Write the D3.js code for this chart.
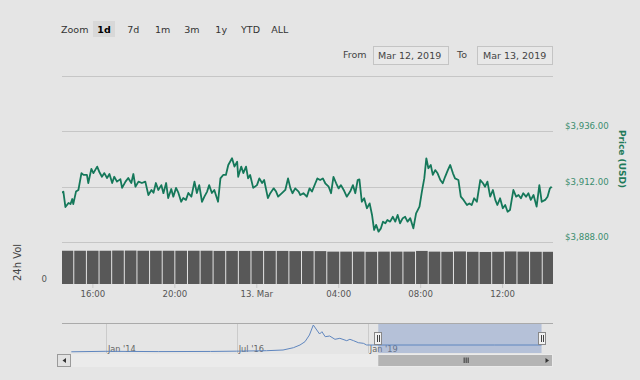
<!DOCTYPE html>
<html><head><meta charset="utf-8">
<script src="https://cdn.jsdelivr.net/npm/d3@7"></script>
<style>
body{margin:0;background:#e5e5e5;}
svg{display:block;font-family:"DejaVu Sans",sans-serif;}
</style>
</head><body>
<svg id="chart" width="640" height="380"></svg>
<script>
// ---------- DATA ----------
// price series: minutes after 2019-03-12 00:00 UTC, price in USD
const priceMinutes = [871,875,881,890,896,901,904,912,919,928,934,944,948,957,963,974,980,988,995,1003,1010,1018,1024,1032,1042,1047,1057,1065,1074,1080,1086,1095,1105,1115,1124,1133,1139,1146,1153,1162,1168,1176,1182,1191,1197,1205,1212,1220,1226,1234,1241,1250,1259,1266,1273,1281,1288,1296,1302,1310,1317,1328,1335,1343,1351,1358,1369,1376,1384,1387,1396,1402,1410,1416,1422,1431,1442,1449,1457,1463,1474,1481,1491,1498,1504,1515,1525,1533,1540,1546,1554,1564,1569,1578,1588,1596,1603,1613,1619,1627,1635,1642,1652,1659,1666,1674,1681,1688,1696,1705,1715,1723,1730,1737,1742,1749,1756,1764,1772,1779,1785,1791,1798,1805,1811,1818,1824,1832,1840,1847,1854,1861,1869,1876,1883,1891,1900,1908,1918,1925,1932,1938,1944,1951,1957,1964,1971,1979,1986,1993,2001,2008,2016,2022,2032,2039,2047,2057,2064,2071,2078,2086,2096,2104,2110,2117,2125,2133,2140,2146,2154,2162,2169,2176,2183,2193,2201,2208,2215,2222,2230,2237,2244,2252,2261,2269,2276,2286,2293,2300,2305];
const priceValues = [3909.3,3909.8,3903.1,3904.9,3904.4,3906.6,3904.4,3909.8,3910.5,3917.8,3917.0,3917.0,3913.5,3919.6,3917.8,3920.6,3918.4,3916.2,3917.8,3915.7,3917.4,3913.5,3916.2,3914.1,3915.2,3911.4,3914.1,3915.7,3913.5,3917.4,3911.9,3914.1,3913.5,3914.1,3908.3,3910.5,3909.3,3913.5,3910.5,3912.6,3909.1,3913.5,3907.0,3910.9,3907.6,3911.4,3909.2,3905.4,3907.0,3906.2,3909.2,3907.6,3914.1,3909.2,3912.6,3905.4,3907.6,3909.8,3912.6,3909.2,3910.5,3905.4,3915.5,3917.0,3917.0,3921.3,3924.2,3920.6,3922.7,3916.2,3920.6,3917.8,3920.6,3915.5,3917.0,3911.4,3912.6,3915.5,3913.5,3914.8,3907.0,3909.1,3911.2,3909.8,3907.6,3909.1,3910.5,3915.5,3911.2,3909.1,3911.2,3909.8,3908.3,3909.1,3907.6,3911.2,3909.8,3913.4,3915.5,3914.8,3915.5,3913.4,3911.9,3909.1,3916.2,3913.4,3911.2,3912.6,3910.5,3907.6,3909.8,3912.6,3909.1,3914.8,3915.1,3905.4,3906.9,3902.6,3904.7,3899.7,3893.2,3895.4,3892.5,3893.9,3896.8,3896.1,3897.5,3896.8,3898.9,3896.8,3899.7,3896.1,3898.3,3898.9,3896.8,3898.3,3893.9,3900.4,3903.3,3909.8,3915.5,3924.2,3919.9,3921.3,3917.0,3919.1,3917.7,3914.8,3913.4,3916.2,3919.1,3921.3,3917.7,3915.5,3914.8,3907.6,3906.2,3904.0,3904.7,3904.0,3906.9,3905.4,3914.8,3913.4,3911.9,3914.1,3907.6,3910.5,3906.2,3904.0,3906.9,3902.6,3904.0,3901.1,3901.8,3910.5,3907.6,3908.3,3906.9,3909.1,3907.6,3909.1,3906.2,3908.3,3903.3,3912.6,3905.4,3906.2,3907.6,3911.2,3911.9];

// volume bars: start minute of each bar, value in billions USD
const volumeMinutes = [867,904,941,978,1015,1052,1089,1126,1163,1200,1237,1274,1312,1349,1386,1423,1460,1497,1534,1571,1608,1645,1683,1720,1757,1794,1831,1868,1905,1942,1979,2016,2054,2091,2128,2165,2202,2239,2276];
const volumeEnd = 2313;
const volumeValues = [9.5,9.5,9.5,9.5,9.55,9.55,9.5,9.5,9.5,9.5,9.5,9.5,9.45,9.45,9.45,9.45,9.45,9.45,9.4,9.4,9.4,9.25,9.25,9.25,9.2,9.25,9.25,9.25,9.45,9.25,9.2,9.3,9.2,9.15,9.2,9.3,9.25,9.2,9.2];

const timeDomain = [871, 2309];
const timeTicks = [960, 1200, 1440, 1680, 1920, 2160];
const priceTicks = [3888, 3912, 3936, 3960];
const priceLabelTicks = [3888, 3912, 3936];
const volumeTicks = [0];

const zoomButtons = ["1d","7d","1m","3m","1y","YTD","ALL"];
const fromDate = "Mar 12, 2019";
const toDate = "Mar 13, 2019";

// navigator (full history)
const navDates = ["2013-05-05","2014-01-01","2015-01-01","2016-01-01","2016-07-01","2017-01-25","2017-05-20","2017-07-31","2017-09-15","2017-10-20","2017-11-20","2017-12-17","2018-01-10","2018-01-30","2018-02-15","2018-03-10","2018-04-10","2018-05-17","2018-06-20","2018-08-07","2018-08-29","2018-09-24","2018-10-27","2018-12-01","2018-12-24","2019-06-01","2020-06-01","2021-06-01","2022-04-26"];
const navPrices = [150,500,300,400,600,940,1440,3100,5050,7440,12280,19500,15900,13000,14660,11050,11550,9170,9890,8160,9170,8160,6720,6280,5050,5050,5050,5050,5050];
const navDomain = ["2013-03-01","2022-07-15"];
const navTicks = ["2014-01-01","2016-07-01","2019-01-01"];
const navTickLabels = ["Jan '14","Jul '16","Jan '19"];
const navSelection = ["2019-03-15","2022-04-26"];

// ---------- LAYOUT ----------
const L = 62, R = 553;
const svg = d3.select("#chart");
const tm = m => new Date(Date.UTC(2019, 2, 12) + m * 60000);
const pd = s => new Date(s + "T00:00:00Z");

const x = d3.scaleUtc().domain(timeDomain.map(tm)).range([L, R]);
const y = d3.scaleLinear().domain([3888, 3936]).range([242, 131]);
const yv = d3.scaleLinear().domain([0, 12]).range([284, 242]);

svg.append("rect").attr("width", 640).attr("height", 380).attr("fill", "#e5e5e5");

svg.append("defs").append("clipPath").attr("id", "plotclip")
  .append("rect").attr("x", L).attr("y", 60).attr("width", R - L).attr("height", 230);

// range selector
const rs = svg.append("g").attr("font-size", 9.5).attr("fill", "#333");
rs.append("text").attr("x", 61).attr("y", 33).text("Zoom");
zoomButtons.forEach((b, i) => {
  const cx = 104 + i * 29.3;
  if (i === 0) {
    rs.append("rect").attr("x", cx - 11).attr("y", 21).attr("width", 22).attr("height", 16)
      .attr("fill", "#d8d8d8");
  }
  rs.append("text").attr("x", cx).attr("y", 33).attr("text-anchor", "middle")
    .attr("font-weight", i === 0 ? "bold" : "normal").attr("fill", i === 0 ? "#000" : "#333").text(b);
});
rs.append("text").attr("x", 343).attr("y", 58).attr("fill", "#444").text("From");
rs.append("rect").attr("x", 373.5).attr("y", 46.5).attr("width", 75).attr("height", 18)
  .attr("fill", "#e8e8e8").attr("stroke", "#c4c4c4");
rs.append("text").attr("x", 378).attr("y", 59).attr("fill", "#444").text(fromDate);
rs.append("text").attr("x", 457).attr("y", 58).attr("fill", "#444").text("To");
rs.append("rect").attr("x", 477.5).attr("y", 46.5).attr("width", 75).attr("height", 18)
  .attr("fill", "#e8e8e8").attr("stroke", "#c4c4c4");
rs.append("text").attr("x", 483).attr("y", 59).attr("fill", "#444").text(toDate);

// price gridlines + labels
svg.append("g").selectAll("line").data(priceTicks).join("line")
  .attr("x1", L).attr("x2", R).attr("y1", d => Math.round(y(d)) + 0.5).attr("y2", d => Math.round(y(d)) + 0.5)
  .attr("stroke", "#c6c6c6").attr("stroke-width", 1);
svg.append("g").selectAll("text").data(priceLabelTicks).join("text")
  .attr("x", 565).attr("y", d => y(d) - 2).attr("font-size", 8.6).attr("fill", "#3a8d6e")
  .text(d => "$" + d3.format(",.2f")(d));
svg.append("text").attr("transform", "translate(621.5,159) rotate(90)")
  .attr("text-anchor", "middle").attr("dominant-baseline", "central")
  .attr("font-size", 9).attr("font-weight", "bold").attr("fill", "#1f7a5a").text("Price (USD)");

// volume bars
const vg = svg.append("g").attr("clip-path", "url(#plotclip)");
vg.selectAll("rect").data(volumeValues).join("rect")
  .attr("x", (d, i) => x(tm(volumeMinutes[i])) + 1)
  .attr("width", (d, i) => x(tm(i + 1 < volumeMinutes.length ? volumeMinutes[i + 1] : volumeEnd)) - x(tm(volumeMinutes[i])) - 1)
  .attr("y", d => yv(d)).attr("height", d => yv(0) - yv(d))
  .attr("fill", "#585858");
svg.append("g").selectAll("text").data(volumeTicks).join("text")
  .attr("x", 47).attr("y", d => yv(d) - 2).attr("text-anchor", "end")
  .attr("font-size", 8.6).attr("fill", "#555").text(d => d);
svg.append("text").attr("transform", "translate(17.5,262.5) rotate(-90)")
  .attr("text-anchor", "middle").attr("dominant-baseline", "central")
  .attr("font-size", 10).attr("fill", "#444").text("24h Vol");

// price line
const line = d3.line().x((d, i) => x(tm(priceMinutes[i]))).y(d => y(d));
svg.append("path").datum(priceValues).attr("clip-path", "url(#plotclip)")
  .attr("d", line).attr("fill", "none").attr("stroke", "#15785a")
  .attr("stroke-width", 1.8).attr("stroke-linejoin", "round");

// x axis
const xAxis = d3.axisBottom(x).tickValues(timeTicks.map(tm)).tickSize(4).tickPadding(3)
  .tickFormat(d => d.getUTCHours() === 0 ? d.getUTCDate() + ". Mar" : d3.utcFormat("%H:%M")(d));
const xg = svg.append("g").attr("transform", "translate(0,284)").call(xAxis);
xg.select(".domain").remove();
xg.selectAll(".tick line").attr("stroke", "#c8c8c8");
xg.selectAll(".tick text").attr("font-size", 8.6).attr("fill", "#555")
  .attr("font-family", "DejaVu Sans, sans-serif");

// ---------- NAVIGATOR ----------
const nx = d3.scaleUtc().domain(navDomain.map(pd)).range([L, R]);
const ny = d3.scaleLinear().domain([0, 19500]).range([352, 325]);
const NT = 323, NB = 353;

svg.append("g").selectAll("line").data(navTicks).join("line")
  .attr("x1", d => Math.round(nx(pd(d))) + 0.5).attr("x2", d => Math.round(nx(pd(d))) + 0.5)
  .attr("y1", NT).attr("y2", NB).attr("stroke", "#cbcbcb");
svg.append("g").selectAll("text").data(navTicks).join("text")
  .attr("x", d => nx(pd(d)) + 2).attr("y", 351.5).attr("font-size", 8.2).attr("fill", "#666")
  .text((d, i) => navTickLabels[i]);

// selection mask
const s0 = nx(pd(navSelection[0])), s1 = nx(pd(navSelection[1]));
svg.append("rect").attr("x", s0).attr("y", NT).attr("width", s1 - s0).attr("height", NB - NT)
  .attr("fill", "rgba(102,133,194,0.38)");

const nline = d3.line().x((d, i) => nx(pd(navDates[i]))).y(d => ny(d));
svg.append("path").datum(navPrices).attr("d", nline).attr("fill", "none")
  .attr("stroke", "#5f86bf").attr("stroke-width", 1);

svg.append("line").attr("x1", L).attr("x2", R).attr("y1", NT + 0.5).attr("y2", NT + 0.5)
  .attr("stroke", "#aaaaaa");

// handles
[s0, s1].forEach(hx => {
  const hxr = Math.round(hx);
  svg.append("rect").attr("x", hxr - 3.5).attr("y", 332.5).attr("width", 7).attr("height", 12)
    .attr("fill", "#f2f2f2").attr("stroke", "#888");
  svg.append("line").attr("x1", hxr - 0.5).attr("x2", hxr - 0.5).attr("y1", 335).attr("y2", 342).attr("stroke", "#444");
  svg.append("line").attr("x1", hxr + 1.5).attr("x2", hxr + 1.5).attr("y1", 335).attr("y2", 342).attr("stroke", "#444");
});

// scrollbar
svg.append("rect").attr("x", 57).attr("y", 354).attr("width", R - 57).attr("height", 13).attr("fill", "#ebebeb");
svg.append("rect").attr("x", 57.5).attr("y", 354.5).attr("width", 13).attr("height", 12)
  .attr("fill", "#e2e2e2").attr("stroke", "#9a9a9a");
svg.append("path").attr("d", "M62.5,360.5 L66,358 L66,363 Z").attr("fill", "#333");
svg.append("rect").attr("x", s0).attr("y", 355).attr("width", R - 1 - s0).attr("height", 11)
  .attr("fill", "#b4b4b4");
const gx = (s0 + R) / 2;
[-2, 0, 2].forEach(o => svg.append("line").attr("x1", gx + o + 0.5).attr("x2", gx + o + 0.5)
  .attr("y1", 357.5).attr("y2", 363).attr("stroke", "#333"));
svg.append("path").attr("d", "M549,360.5 L545.5,358 L545.5,363 Z").attr("fill", "#333");
</script>
</body></html>
